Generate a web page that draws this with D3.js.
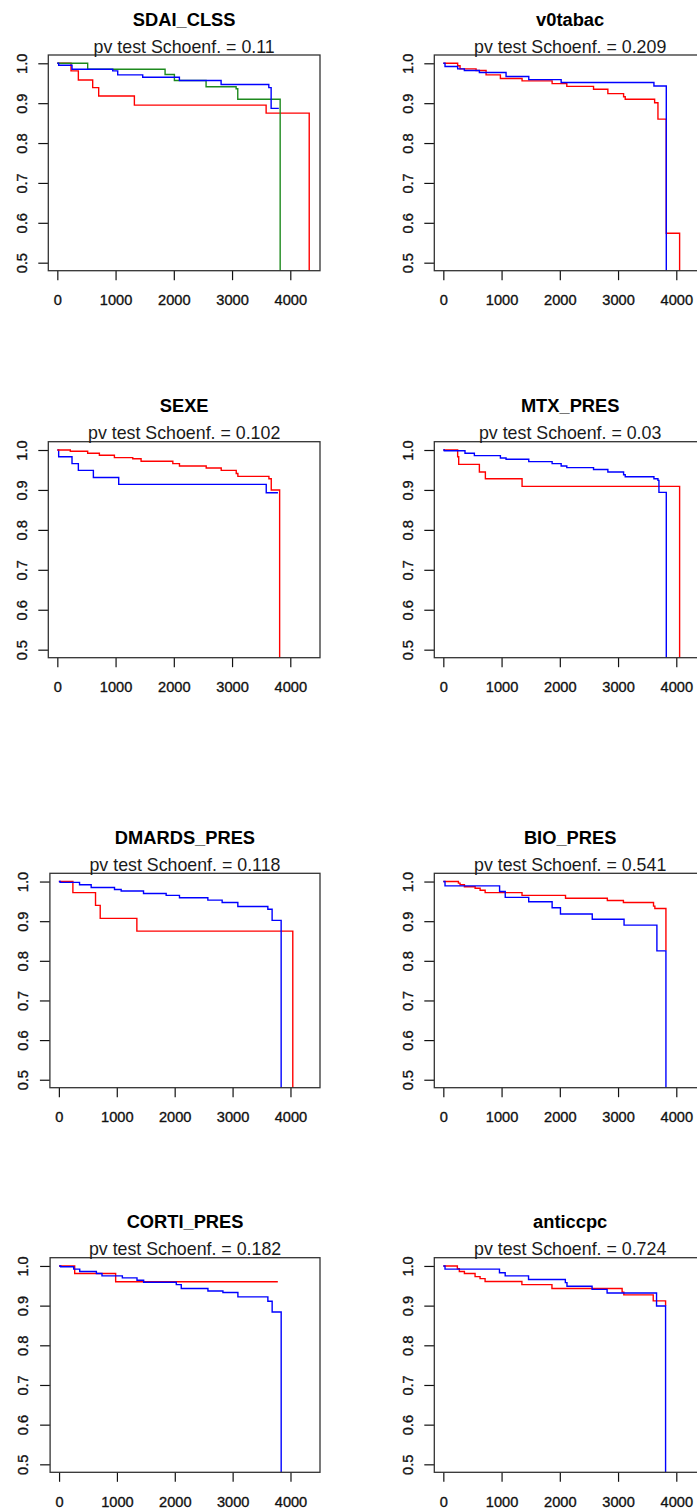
<!DOCTYPE html>
<html>
<head>
<meta charset="utf-8">
<script src="https://cdn.jsdelivr.net/npm/d3@7"></script>
<style>
  html, body { margin: 0; padding: 0; background: #fff; }
  svg { display: block; }
  text { font-family: "Liberation Sans", Arial, sans-serif; }
</style>
</head>
<body>
<div id="chart"></div>
<script>
// Kaplan-Meier style step curves: [time, survival] at each step
const sdaiBlue  = [[0,1],[23,0.995],[252,0.985],[951,0.981],[1037,0.971],[1466,0.965],[2096,0.957],[2812,0.947],[3631,0.939],[3671,0.887],[3803,0.887]];
const sdaiRed   = [[0,1],[235,0.981],[361,0.958],[607,0.939],[710,0.918],[1323,0.895],[3585,0.875],[4325,0]];
const sdaiGreen = [[0,1],[521,0.985],[1850,0.972],[2010,0.957],[2554,0.941],[3070,0.936],[3098,0.910],[3826,0]];

const tabacRed  = [[0,1],[246,0.994],[287,0.986],[562,0.982],[734,0.971],[980,0.962],[1352,0.956],[1868,0.949],[2120,0.942],[2579,0.935],[2825,0.924],[3095,0.916],[3123,0.910],[3628,0.901],[3685,0.860],[3828,0.574],[4057,0]];
const tabacBlue = [[0,1],[29,0.992],[246,0.986],[361,0.982],[619,0.977],[1077,0.967],[1467,0.959],[2023,0.952],[3616,0.943],[3828,0]];

const sexeRed   = [[0,1],[223,0.997],[521,0.992],[722,0.987],[980,0.981],[1295,0.978],[1438,0.972],[1983,0.966],[2097,0.960],[2556,0.955],[2814,0.949],[3072,0.941],[3100,0.934],[3633,0.928],[3673,0.900],[3817,0]];
const sexeBlue  = [[0,1],[23,0.983],[252,0.966],[361,0.949],[619,0.931],[1054,0.914],[3587,0.893],[3788,0.893]];

const mtxRed    = [[0,1],[246,0.983],[264,0.964],[619,0.945],[722,0.928],[1352,0.909],[4057,0]];
const mtxBlue   = [[0,1],[17,0.998],[372,0.992],[533,0.986],[980,0.980],[1077,0.977],[1467,0.971],[1868,0.966],[2023,0.960],[2120,0.956],[2579,0.951],[2825,0.945],[3095,0.938],[3123,0.933],[3616,0.928],[3685,0.924],[3702,0.894],[3828,0]];

const dmardsRed  = [[0,1],[242,0.972],[633,0.940],[714,0.907],[1347,0.875],[4040,0]];
const dmardsBlue = [[0,1],[23,0.998],[357,0.992],[558,0.985],[961,0.980],[1076,0.976],[1462,0.970],[1853,0.965],[2083,0.959],[2573,0.953],[2820,0.947],[3091,0.937],[3609,0.930],[3683,0.902],[3839,0]];

const bioRed    = [[0,1],[259,0.996],[287,0.992],[362,0.987],[546,0.983],[632,0.978],[718,0.972],[1351,0.965],[2098,0.958],[2816,0.952],[3092,0.947],[3609,0.938],[3632,0.932],[3822,0.826]];
const bioBlue   = [[0,1],[29,0.989],[966,0.975],[1063,0.960],[1466,0.949],[1868,0.934],[2011,0.918],[2557,0.905],[3103,0.890],[3667,0.825],[3822,0]];

const cortiRed  = [[0,1],[270,0.981],[978,0.960],[3781,0.960]];
const cortiBlue = [[0,1],[29,0.998],[253,0.992],[357,0.986],[645,0.981],[742,0.975],[1094,0.970],[1347,0.964],[1462,0.959],[2026,0.953],[2112,0.943],[2573,0.937],[2832,0.933],[3091,0.922],[3609,0.911],[3683,0.884],[3839,0]];

const ccpRed    = [[0,1],[241,0.993],[275,0.986],[362,0.981],[545,0.973],[631,0.968],[717,0.961],[1349,0.953],[1865,0.943],[3070,0.934],[3099,0.927],[3604,0.912],[3816,0.900]];
const ccpBlue   = [[0,1],[29,0.992],[964,0.983],[1062,0.975],[1463,0.966],[2095,0.958],[2123,0.949],[2554,0.941],[2812,0.932],[3661,0.899],[3816,0]];

const titles   = ["SDAI_CLSS", "v0tabac", "SEXE", "MTX_PRES", "DMARDS_PRES", "BIO_PRES", "CORTI_PRES", "anticcpc"];
const pvalues  = ["0.11", "0.209", "0.102", "0.03", "0.118", "0.541", "0.182", "0.724"];
const xTicks   = [0, 1000, 2000, 3000, 4000];
const yTicks   = [0.5, 0.6, 0.7, 0.8, 0.9, 1.0];

// curves per panel, in drawing order
const panelCurves = [
  [{d: sdaiRed, c: "red"}, {d: sdaiGreen, c: "green"}, {d: sdaiBlue, c: "blue"}],
  [{d: tabacRed, c: "red"}, {d: tabacBlue, c: "blue"}],
  [{d: sexeBlue, c: "blue"}, {d: sexeRed, c: "red"}],
  [{d: mtxRed, c: "red"}, {d: mtxBlue, c: "blue"}],
  [{d: dmardsRed, c: "red"}, {d: dmardsBlue, c: "blue"}],
  [{d: bioRed, c: "red"}, {d: bioBlue, c: "blue"}],
  [{d: cortiRed, c: "red"}, {d: cortiBlue, c: "blue"}],
  [{d: ccpRed, c: "red"}, {d: ccpBlue, c: "blue"}]
];

const colours = { red: "#ff0000", blue: "#0000ff", green: "#1e8a1e" };

// page layout
const W = 697, H = 1510;
const colLeft = [48.3, 434.3];
const rowTop = [55, 441.7, 873.3, 1257.7];
const rowHeight = [215.7, 216, 214.4, 214.6];
const rowShift = [0, 0, 1.6, 1.8];
const boxWidth = 271.7;

const svg = d3.select("#chart").append("svg")
  .attr("width", W).attr("height", H)
  .attr("viewBox", `0 0 ${W} ${H}`);
svg.append("rect").attr("width", W).attr("height", H).attr("fill", "#fff");

const defs = svg.append("defs");

titles.forEach((title, i) => {
  const row = Math.floor(i / 2), col = i % 2;
  const left = colLeft[col] + (col === 0 ? rowShift[row] : 0);
  const width = boxWidth - (col === 0 ? rowShift[row] : 0);
  const top = rowTop[row];
  const height = rowHeight[row];

  const x = d3.scaleLinear().domain([-155, 4510]).range([left, left + width]);
  const y = d3.scaleLinear().domain([0.4799, 1.0208]).range([top + height, top]);

  const g = svg.append("g");

  const clipId = "clip" + i;
  defs.append("clipPath").attr("id", clipId)
    .append("rect").attr("x", left).attr("y", top).attr("width", width).attr("height", height);

  // survival curves
  const line = d3.line()
    .x(d => x(d[0]))
    .y(d => y(d[1]))
    .curve(d3.curveStepAfter);

  const curves = g.append("g").attr("clip-path", `url(#${clipId})`);
  panelCurves[i].forEach(cv => {
    curves.append("path")
      .attr("d", line(cv.d))
      .attr("fill", "none")
      .attr("stroke", colours[cv.c])
      .attr("stroke-width", 1.4);
  });

  // x axis
  const xa = g.append("g")
    .attr("transform", `translate(0,${top + height})`)
    .call(d3.axisBottom(x).tickValues(xTicks).tickSize(9.5).tickFormat(d3.format("d")));
  xa.select(".domain").remove();
  xa.selectAll(".tick line").attr("stroke", "#111").attr("stroke-width", 1.2);
  xa.selectAll(".tick text")
    .attr("y", 34.3).attr("dy", null)
    .attr("fill", "#111")
    .attr("stroke", "#111").attr("stroke-width", 0.35)
    .style("font-size", "14.6px")
    .style("font-family", "'Liberation Sans', Arial, sans-serif");

  // y axis
  const ya = g.append("g")
    .attr("transform", `translate(${left},0)`)
    .call(d3.axisLeft(y).tickValues(yTicks).tickSize(10).tickFormat(d3.format(".1f")));
  ya.select(".domain").remove();
  ya.selectAll(".tick line").attr("stroke", "#111").attr("stroke-width", 1.2);
  ya.selectAll(".tick text")
    .attr("x", null).attr("dy", null)
    .attr("text-anchor", "middle")
    .attr("transform", "translate(-21.6,0) rotate(-90)")
    .attr("fill", "#111")
    .attr("stroke", "#111").attr("stroke-width", 0.35)
    .style("font-size", "14.6px")
    .style("font-family", "'Liberation Sans', Arial, sans-serif");

  // plot frame
  g.append("rect")
    .attr("x", left).attr("y", top)
    .attr("width", width).attr("height", height)
    .attr("fill", "none")
    .attr("stroke", "#333")
    .attr("stroke-width", 1.3);

  // titles
  const cx = left + width / 2;
  g.append("text")
    .attr("x", cx).attr("y", top - 29.3)
    .attr("text-anchor", "middle")
    .attr("font-weight", "bold")
    .attr("font-size", "18.3px")
    .attr("fill", "#000")
    .text(title);
  g.append("text")
    .attr("x", cx).attr("y", top - 2.3)
    .attr("text-anchor", "middle")
    .attr("font-size", "17.8px")
    .attr("fill", "#1a1a1a")
    .text(`pv test Schoenf. = ${pvalues[i]}`);
});
</script>
</body>
</html>
